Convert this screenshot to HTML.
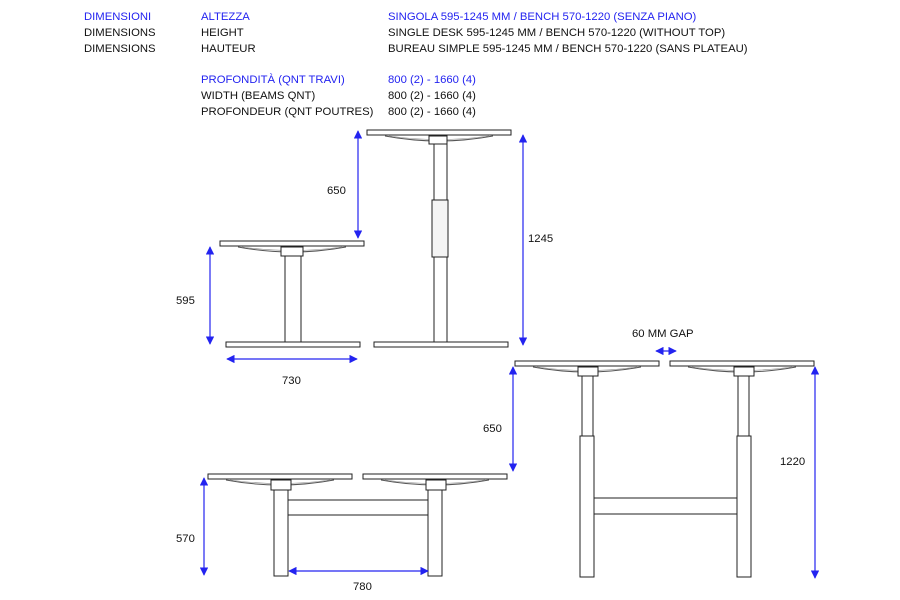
<!DOCTYPE html>
<html><head><meta charset="utf-8"><style>
html,body{margin:0;padding:0;background:#fff;width:900px;height:600px;overflow:hidden}
svg{display:block}
text{font-family:"Liberation Sans",sans-serif;font-size:11.3px;fill:#111}
.b{fill:#2323f0}
</style></head><body>
<svg width="900" height="600" viewBox="0 0 900 600">
<defs>
<marker id="a" viewBox="0 0 10 10" refX="9" refY="5" markerWidth="7" markerHeight="7" orient="auto-start-reverse"><path d="M0,0L10,5L0,10z" fill="#2323f0"/></marker>
<g id="top">
<rect x="0" y="0" width="144" height="5" fill="#fff" stroke="#222" stroke-width="1"/>
<path d="M18,6 Q72,16 126,6" fill="none" stroke="#555" stroke-width="1"/>
<path d="M22,6 Q72,13 122,6" fill="none" stroke="#888" stroke-width="0.6"/>
</g>
</defs>
<text class="b" x="84" y="20">DIMENSIONI</text>
<text x="84" y="36">DIMENSIONS</text>
<text x="84" y="52">DIMENSIONS</text>
<text class="b" x="201" y="20">ALTEZZA</text>
<text x="201" y="36">HEIGHT</text>
<text x="201" y="52">HAUTEUR</text>
<text class="b" x="388" y="20">SINGOLA 595-1245 MM / BENCH 570-1220 (SENZA PIANO)</text>
<text x="388" y="36">SINGLE DESK 595-1245 MM / BENCH 570-1220 (WITHOUT TOP)</text>
<text x="388" y="52">BUREAU SIMPLE 595-1245 MM / BENCH 570-1220 (SANS PLATEAU)</text>
<text class="b" x="201" y="83">PROFONDITÀ (QNT TRAVI)</text>
<text x="201" y="99">WIDTH (BEAMS QNT)</text>
<text x="201" y="115">PROFONDEUR (QNT POUTRES)</text>
<text class="b" x="388" y="83">800 (2) - 1660 (4)</text>
<text x="388" y="99">800 (2) - 1660 (4)</text>
<text x="388" y="115">800 (2) - 1660 (4)</text>

<g fill="#fff" stroke="#222" stroke-width="1">
<use href="#top" x="220" y="241"/>
<rect x="281" y="247" width="22" height="9"/>
<rect x="285" y="256" width="16" height="86"/>
<rect x="226" y="342" width="134" height="5"/>
<use href="#top" x="367" y="130"/>
<rect x="429" y="136" width="18" height="8"/>
<rect x="434" y="144" width="13" height="56"/>
<rect x="432" y="200" width="16" height="57" fill="#f4f4f4"/>
<rect x="434" y="257" width="13" height="85"/>
<rect x="374" y="342" width="134" height="5"/>
<use href="#top" x="208" y="474"/>
<use href="#top" x="363" y="474"/>
<rect x="271" y="480" width="20" height="10"/>
<rect x="426" y="480" width="20" height="10"/>
<rect x="288" y="500" width="140" height="15"/>
<rect x="274" y="490" width="14" height="86"/>
<rect x="428" y="490" width="14" height="86"/>
<use href="#top" x="515" y="361"/>
<use href="#top" x="670" y="361"/>
<rect x="578" y="367" width="20" height="9"/>
<rect x="734" y="367" width="20" height="9"/>
<rect x="594" y="498" width="143" height="16"/>
<rect x="582" y="376" width="11" height="60"/>
<rect x="738" y="376" width="11" height="60"/>
<rect x="580" y="436" width="14" height="141"/>
<rect x="737" y="436" width="14" height="141"/>
</g>

<g stroke="#2323f0" stroke-width="1.2" marker-start="url(#a)" marker-end="url(#a)">
<line x1="210" y1="247" x2="210" y2="344"/>
<line x1="227" y1="359" x2="357" y2="359"/>
<line x1="358" y1="131" x2="358" y2="238"/>
<line x1="523" y1="135" x2="523" y2="345"/>
<line x1="204" y1="478" x2="204" y2="575"/>
<line x1="289" y1="571" x2="428" y2="571"/>
<line x1="513" y1="367" x2="513" y2="471"/>
<line x1="815" y1="367" x2="815" y2="578"/>
<line x1="656" y1="351" x2="676" y2="351"/>
</g>
<text x="176" y="304">595</text>
<text x="282" y="384">730</text>
<text x="327" y="194">650</text>
<text x="528" y="242">1245</text>
<text x="176" y="542">570</text>
<text x="353" y="590">780</text>
<text x="483" y="432">650</text>
<text x="780" y="465">1220</text>
<text x="632" y="337">60 MM GAP</text>
</svg>
</body></html>
